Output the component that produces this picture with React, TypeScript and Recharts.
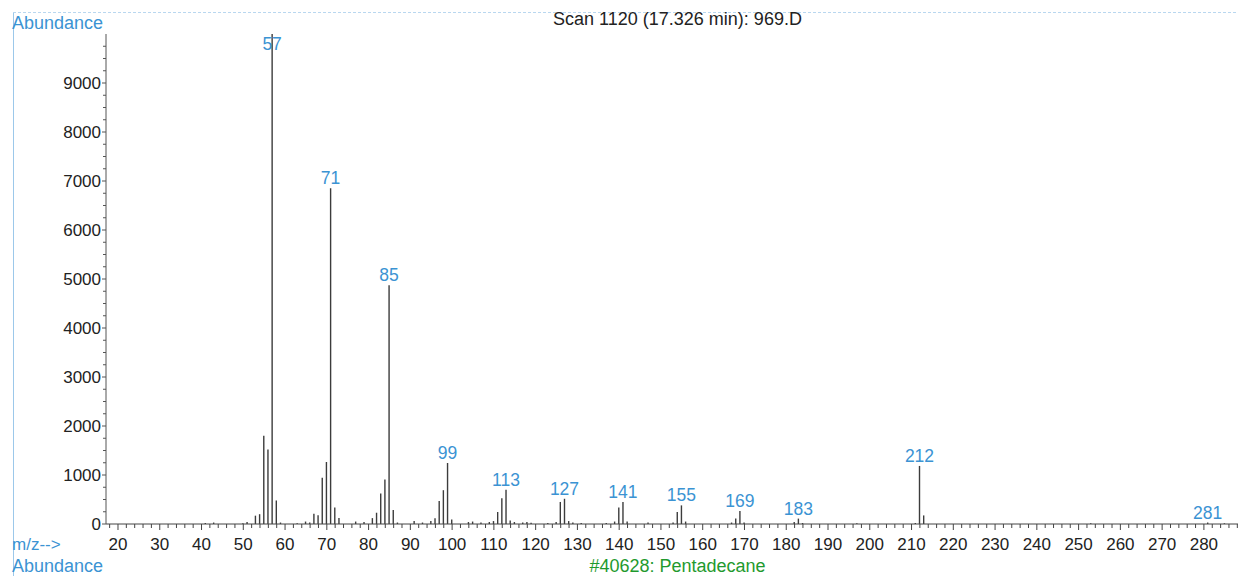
import { Bar, BarChart, LabelList, XAxis, YAxis } from "recharts";

// m/z and abundance
const mz = [
  41, 43, 50, 51, 53, 54, 55, 56, 57, 58, 59, 63, 65, 66, 67, 68, 69, 70, 71, 72,
  73, 77, 79, 81, 82, 83, 84, 85, 86, 87, 91, 93, 95, 96, 97, 98, 99, 100, 104,
  105, 107, 109, 110, 111, 112, 113, 114, 115, 117, 118, 119, 123, 125, 126, 127,
  128, 129, 131, 137, 139, 140, 141, 142, 147, 153, 154, 155, 156, 167, 168, 169,
  170, 182, 183, 184, 197, 211, 212, 213, 253, 281, 285,
];
const abundance = [
  20, 30, 15, 40, 170, 200, 1800, 1520, 9999, 480, 30, 15, 50, 30, 210, 180, 945,
  1265, 6850, 335, 120, 50, 40, 120, 230, 625, 910, 4870, 285, 30, 60, 30, 60,
  115, 470, 690, 1245, 90, 40, 50, 30, 40, 60, 245, 525, 700, 70, 40, 30, 40, 25,
  20, 40, 450, 515, 60, 30, 20, 20, 50, 335, 450, 50, 30, 30, 245, 380, 50, 30,
  110, 265, 30, 40, 110, 20, 15, 20, 1185, 175, 15, 30, 15,
];
const labelledPeaks = [57, 71, 85, 99, 113, 127, 141, 155, 169, 183, 212, 281];

const xTickLabels = [
  20, 30, 40, 50, 60, 70, 80, 90, 100, 110, 120, 130, 140, 150, 160, 170, 180,
  190, 200, 210, 220, 230, 240, 250, 260, 270, 280,
];
const yTickLabels = [0, 1000, 2000, 3000, 4000, 5000, 6000, 7000, 8000, 9000];

const data = mz.map((m, i) => ({ mz: m, abundance: abundance[i] }));

const xTicks: number[] = [];
for (let v = 18; v <= 288; v += 2) xTicks.push(v);
const yTicks: number[] = [];
for (let v = 0; v <= 9750; v += 250) yTicks.push(v);

const BLUE = "#3b93d3";
const INK = "#222";
const FONT = "'Liberation Sans', Arial, sans-serif";

function XTick(props: any) {
  const { x, y, payload } = props;
  const major = xTickLabels.includes(payload.value);
  return (
    <g>
      <line x1={x} x2={x} y1={y} y2={y + (major ? 6 : 4)} stroke="#444" />
      {major && (
        <text x={x} y={y + 26} textAnchor="middle" fontSize={17} fill={INK} fontFamily={FONT}>
          {payload.value}
        </text>
      )}
    </g>
  );
}

function YTick(props: any) {
  const { x, y, payload } = props;
  const major = yTickLabels.includes(payload.value);
  return (
    <g>
      <line x1={x - (major ? 4 : 3)} x2={x} y1={y} y2={y} stroke="#555" />
      {major && (
        <text x={x - 5} y={y + 6} textAnchor="end" fontSize={17} fill={INK} fontFamily={FONT}>
          {payload.value}
        </text>
      )}
    </g>
  );
}

function PeakLabel(props: any) {
  const { x, y, width, index } = props;
  const m = data[index].mz;
  if (!labelledPeaks.includes(m)) return null;
  return (
    <text
      x={x + width / 2}
      y={Math.max(y - 4, 50)}
      textAnchor="middle"
      fontSize={17.5}
      fill={BLUE}
      fontFamily={FONT}
    >
      {m}
    </text>
  );
}

export default function App() {
  return (
    <div
      style={{
        position: "relative",
        width: 1246,
        height: 584,
        margin: -8,
        background: "#fff",
        fontFamily: FONT,
        overflow: "hidden",
      }}
    >
      {/* page frame */}
      <div style={{ position: "absolute", left: 13, top: 12, width: 1, height: 572, background: "#9cc8ea" }} />
      <div
        style={{
          position: "absolute",
          left: 13,
          top: 12,
          width: 1233,
          height: 0,
          borderTop: "1px dashed #b9d7ef",
        }}
      />
      <div style={{ position: "absolute", left: 12, top: 13, fontSize: 18, color: BLUE }}>Abundance</div>
      <div
        style={{
          position: "absolute",
          left: 440,
          width: 475,
          top: 9,
          textAlign: "center",
          fontSize: 18,
          color: INK,
        }}
      >
        Scan 1120 (17.326 min): 969.D
      </div>

      <div style={{ position: "absolute", left: 0, top: 0 }}>
        <BarChart width={1246} height={584} data={data} margin={{ top: 34, right: 2, left: 8, bottom: 20 }}>
          <XAxis
            dataKey="mz"
            type="number"
            domain={[17.13, 289.6]}
            allowDataOverflow
            ticks={xTicks}
            interval={0}
            tickSize={0}
            tickMargin={0}
            tick={<XTick />}
            height={40}
            axisLine={{ stroke: "#444" }}
          />
          <YAxis
            type="number"
            domain={[0, 10000]}
            ticks={yTicks}
            interval={0}
            tickSize={0}
            tickMargin={0}
            tick={<YTick />}
            width={98}
            axisLine={{ stroke: "#555" }}
          />
          <Bar dataKey="abundance" fill="#3c3c3c" barSize={1.4} isAnimationActive={false}>
            <LabelList dataKey="abundance" content={<PeakLabel />} />
          </Bar>
        </BarChart>
      </div>

      <div style={{ position: "absolute", left: 12, top: 535, fontSize: 17, color: BLUE }}>m/z--&gt;</div>
      <div style={{ position: "absolute", left: 12, top: 556, fontSize: 18, color: BLUE }}>Abundance</div>
      <div
        style={{
          position: "absolute",
          left: 440,
          width: 475,
          top: 556,
          textAlign: "center",
          fontSize: 18,
          color: "#1f9a2e",
        }}
      >
        #40628: Pentadecane
      </div>
      <div style={{ position: "absolute", left: 106, top: 577, width: 1, height: 7, background: "#888" }} />
    </div>
  );
}
